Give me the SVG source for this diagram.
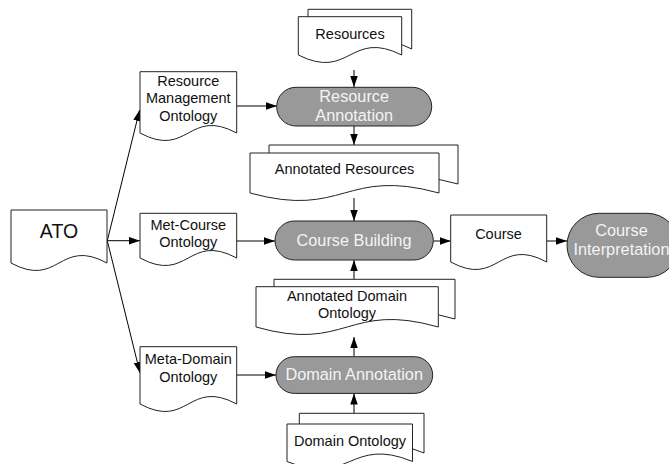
<svg xmlns="http://www.w3.org/2000/svg" width="669" height="464" viewBox="0 0 669 464">
<style>
.doc{fill:#fff;stroke:#222;stroke-width:1}
.term{fill:#999;stroke:#222;stroke-width:1}
.t{font-family:"Liberation Sans",Arial,sans-serif;font-size:14.5px;fill:#111;text-anchor:middle}
.tw{font-family:"Liberation Sans",Arial,sans-serif;font-size:16.3px;fill:#f4f4f4;text-anchor:middle}
.c{stroke:#000;stroke-width:1;fill:none;marker-end:url(#ah)}
</style>
<defs>
<marker id="ah" markerUnits="userSpaceOnUse" markerWidth="12" markerHeight="8" refX="11" refY="3.75" orient="auto">
<path d="M0,0 L11,3.75 L0,7.5 Z" fill="#000"/>
</marker>
</defs>
<rect width="669" height="464" fill="#fff"/>

<g id="connectors">
<path class="c" d="M354,70 V87"/>
<path class="c" d="M354,126 V145"/>
<path class="c" d="M354,198 V221"/>
<path class="c" d="M354,279 V260"/>
<path class="c" d="M354,356.5 V337"/>
<path class="c" d="M354,413 V393.5"/>
<path class="c" d="M433.3,241 H450.7"/>
<path class="c" d="M546.7,241 H567"/>
<path class="c" d="M236.7,106 H277"/>
<path class="c" d="M236.7,241 H275"/>
<path class="c" d="M236.7,375 H276"/>
<path class="c" d="M107.3,240.7 L139.6,110"/>
<path class="c" d="M107.3,240.7 H140"/>
<path class="c" d="M107.3,240.7 L140,373"/>
</g>

<g id="ato">
<path class="doc" d="M11,263 V210 H107 V263 C59,237 59,289 11,263 Z"/>
<text class="t" x="59" y="238.3" style="font-size:19.5px">ATO</text>
</g>

<g id="rmo">
<path class="doc" d="M140,133 V71.7 H236.7 V133 C188.3,107 188.3,159 140,133 Z"/>
<text class="t" x="188.3" y="86">Resource</text>
<text class="t" x="188.3" y="103.3">Management</text>
<text class="t" x="188.3" y="120.5">Ontology</text>
</g>

<g id="mco">
<path class="doc" d="M140,258 V213.3 H236.7 V258 C188.3,232 188.3,284 140,258 Z"/>
<text class="t" x="188.3" y="230">Met-Course</text>
<text class="t" x="188.3" y="247.3">Ontology</text>
</g>

<g id="mdo">
<path class="doc" d="M140,404 V346.7 H236.7 V404 C188.3,378 188.3,430 140,404 Z"/>
<text class="t" x="188.3" y="364.3">Meta-Domain</text>
<text class="t" x="188.3" y="381.7">Ontology</text>
</g>

<g id="resources">
<path class="doc" d="M308,49 V9.3 H411.7 V49 C359.8,23 359.8,75 308,49 Z"/>
<path class="doc" d="M298.3,55 V16.7 H401.7 V55 C350,29 350,81 298.3,55 Z"/>
<text class="t" x="350" y="39">Resources</text>
</g>

<g id="resource-annotation">
<rect class="term" x="276.7" y="87.3" width="155" height="38.7" rx="19.3"/>
<text class="tw" x="354.2" y="102">Resource</text>
<text class="tw" x="354.2" y="120.5">Annotation</text>
</g>

<g id="annotated-resources">
<path class="doc" d="M269,184 V145 H458 V184 C363.5,158 363.5,210 269,184 Z"/>
<path class="doc" d="M250,193 V153 H439 V193 C344.5,167 344.5,219 250,193 Z"/>
<text class="t" x="344.5" y="174.3">Annotated Resources</text>
</g>

<g id="course-building">
<rect class="term" x="275" y="221" width="158.3" height="39" rx="19.5"/>
<text class="tw" x="354" y="246">Course Building</text>
</g>

<g id="course">
<path class="doc" d="M450.7,262 V215 H546.7 V262 C498.7,236 498.7,288 450.7,262 Z"/>
<text class="t" x="498.5" y="239">Course</text>
</g>

<g id="course-interpretation">
<rect class="term" x="567" y="213.3" width="112" height="64" rx="32"/>
<text class="tw" x="621.5" y="235.7">Course</text>
<text class="tw" x="621.5" y="255">Interpretation</text>
</g>

<g id="annotated-domain-ontology">
<path class="doc" d="M274,319 V279.3 H455 V319 C364.5,293 364.5,345 274,319 Z"/>
<path class="doc" d="M256,327 V286.7 H438.3 V327 C347.2,301 347.2,353 256,327 Z"/>
<text class="t" x="347" y="301">Annotated Domain</text>
<text class="t" x="347" y="318.3">Ontology</text>
</g>

<g id="domain-annotation">
<rect class="term" x="276" y="356.7" width="156.7" height="36.7" rx="18.3"/>
<text class="tw" x="354.2" y="380">Domain Annotation</text>
</g>

<g id="domain-ontology">
<path class="doc" d="M299.3,453 V413.3 H424 V453 C361.7,427 361.7,479 299.3,453 Z"/>
<path class="doc" d="M287,461.5 V424 H412.5 V461.5 C349.8,435.5 349.8,487.5 287,461.5 Z"/>
<text class="t" x="350" y="445.7">Domain Ontology</text>
</g>
</svg>
